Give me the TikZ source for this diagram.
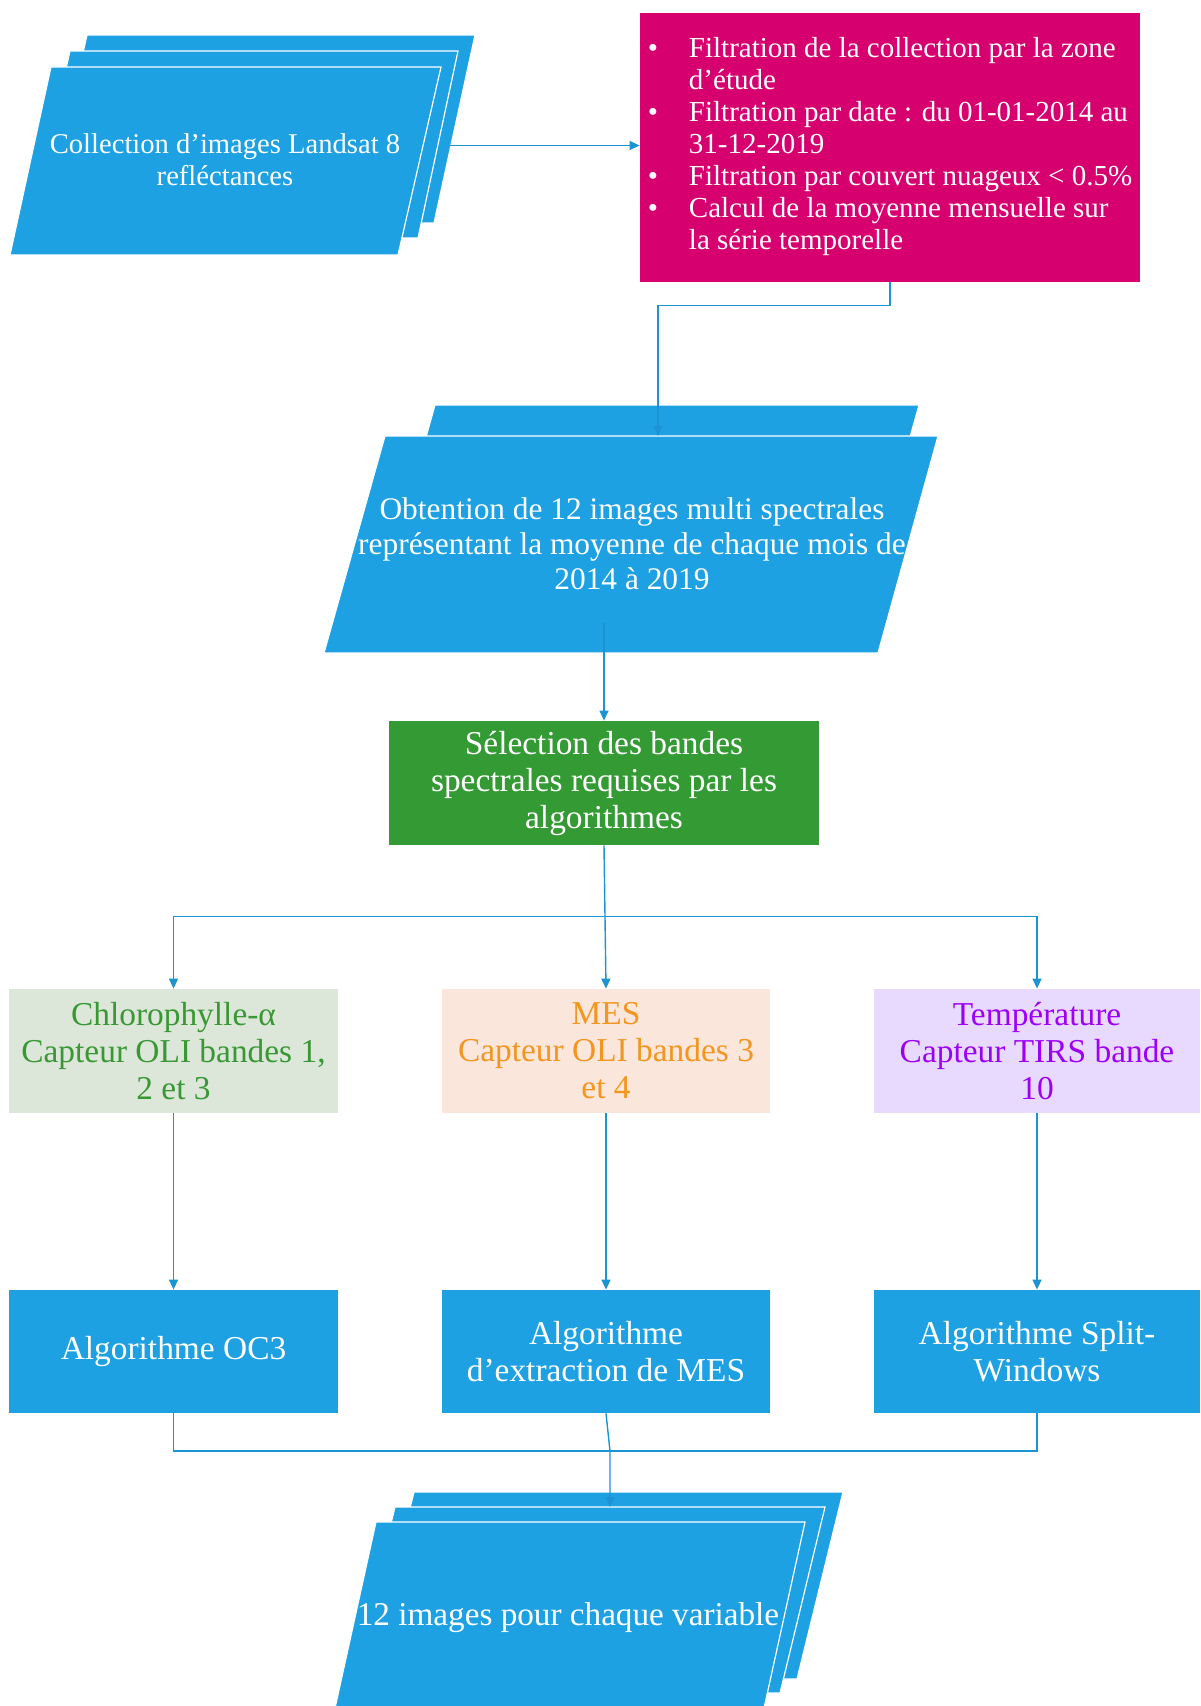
\documentclass[tikz,border=0pt]{standalone}
\usepackage{fontspec}
\setmainfont{Liberation Serif}
\usetikzlibrary{arrows.meta}
\definecolor{flowblue}{RGB}{29,161,226}
\definecolor{linkblue}{RGB}{26,148,210}
\definecolor{filtpink}{RGB}{214,0,111}
\definecolor{selgreen}{RGB}{52,154,52}
\definecolor{chlfill}{RGB}{220,231,218}
\definecolor{chltext}{RGB}{57,152,52}
\definecolor{mesfill}{RGB}{250,230,218}
\definecolor{mestext}{RGB}{242,150,32}
\definecolor{tempfill}{RGB}{232,218,255}
\definecolor{temptext}{RGB}{158,0,245}

\begin{document}
\begin{tikzpicture}[x=0.5pt,y=-0.5pt,
  sheet/.style={fill=flowblue,draw=white,line width=0.6pt,line join=miter},
  link/.style={draw=linkblue,line width=0.7pt,-{Triangle[length=5pt,width=4.5pt]}},
  plain/.style={draw=linkblue,line width=0.7pt},
  box/.style={rectangle,inner sep=0pt,align=center,minimum height=62pt,
    font=\fontsize{16.7}{18.5}\selectfont},
  sheettext/.style={text=white,align=center,inner sep=0pt}
]
\useasboundingbox (0,0) rectangle (1200,1706);

% stacked input collection
\path[sheet] (87,35) -- (475,35) -- (434,223) -- (45,223) -- cycle;
\path[sheet] (70,51) -- (458,51) -- (418,238) -- (28,238) -- cycle;
\path[sheet] (51,67) -- (441,67) -- (398,255) -- (10,255) -- cycle;
\node[sheettext,font=\fontsize{14.3}{15.8}\selectfont] (coll) at (225,160)
  {Collection d’images Landsat 8\\refléctances};
\coordinate (collR) at (450,145.5);

% filtering steps
\node[rectangle,fill=filtpink,text=white,minimum width=250pt,minimum height=134.5pt,
  inner sep=0pt,font=\fontsize{14.5}{16}\selectfont] (filt) at (890,147.5)
  {\begin{tabular}{@{}l@{\hspace{15.5pt}}l@{}}
   \textbullet & Filtration de la collection par la zone\\
               & d’étude\\
   \textbullet & Filtration par date : du 01-01-2014 au\\
               & 31-12-2019\\
   \textbullet & Filtration par couvert nuageux < 0.5\%\\
   \textbullet & Calcul de la moyenne mensuelle sur\\
               & la série temporelle
   \end{tabular}};

% monthly mean images
\path[sheet] (435,405) -- (919,405) -- (859,620) -- (375,620) -- cycle;
\path[sheet] (385,436) -- (938,436) -- (878,653) -- (324,653) -- cycle;
\node[sheettext,font=\fontsize{15.7}{17.4}\selectfont] (obt) at (632,544)
  {Obtention de 12 images multi spectrales\\représentant la moyenne de chaque mois de\\2014 à 2019};
\coordinate (obtIn) at (658,436);
\coordinate (obtOut) at (604,623);

% band selection
\node[box,fill=selgreen,text=white,minimum width=215pt] (sel) at (604,783)
  {Sélection des bandes\\spectrales requises par les\\algorithmes};

% variables
\node[box,fill=chlfill,text=chltext,minimum width=164.5pt] (chl) at (173.5,1051)
  {Chlorophylle-α\\Capteur OLI bandes 1,\\2 et 3};
\node[box,fill=mesfill,text=mestext,minimum width=164pt] (mes) at (606,1051)
  {MES\\Capteur OLI bandes 3\\et 4};
\node[box,fill=tempfill,text=temptext,minimum width=163pt] (temp) at (1037,1051)
  {Température\\Capteur TIRS bande\\10};

% algorithms
\node[box,fill=flowblue,text=white,minimum width=164.5pt,minimum height=61.5pt] (alg1) at (173.5,1351.5)
  {Algorithme OC3};
\node[box,fill=flowblue,text=white,minimum width=164pt,minimum height=61.5pt] (alg2) at (606,1351.5)
  {Algorithme\\d’extraction de MES};
\node[box,fill=flowblue,text=white,minimum width=163pt,minimum height=61.5pt] (alg3) at (1037,1351.5)
  {Algorithme Split-\\Windows};

% output images
\begin{scope}
  \clip (0,0) rectangle (1200,1706);
  \path[sheet] (414,1492) -- (843,1492) -- (797,1679) -- (368,1679) -- cycle;
  \path[sheet] (395,1507) -- (825,1507) -- (780,1693) -- (350,1693) -- cycle;
  \path[sheet] (376,1522) -- (805,1522) -- (757,1740) -- (328,1740) -- cycle;
\end{scope}
\node[sheettext,font=\fontsize{16.6}{18.5}\selectfont] (res) at (568,1618)
  {12 images pour chaque variable};
\coordinate (resIn) at (610,1507);
\coordinate (merge) at (610,1451);

% connectors
\draw[link] (collR) -- (collR -| filt.west);
\draw[link] (filt.south) -- ++(0,23) -| (obtIn);
\draw[link] (obtOut) -- (obtOut |- sel.north);
\draw[link] (sel.south) -- (mes.north);
\path (sel.south) ++(0,71) coordinate (split);
\draw[link] (split) -| (chl.north);
\draw[link] (split) -| (temp.north);
\draw[link] (chl.south) -- (alg1.north);
\draw[link] (mes.south) -- (alg2.north);
\draw[link] (temp.south) -- (alg3.north);
\draw[plain] (alg1.south) |- (merge);
\draw[plain] (alg3.south) |- (merge);
\draw[link] (alg2.south) -- (merge) -- (resIn);
\end{tikzpicture}
\end{document}
